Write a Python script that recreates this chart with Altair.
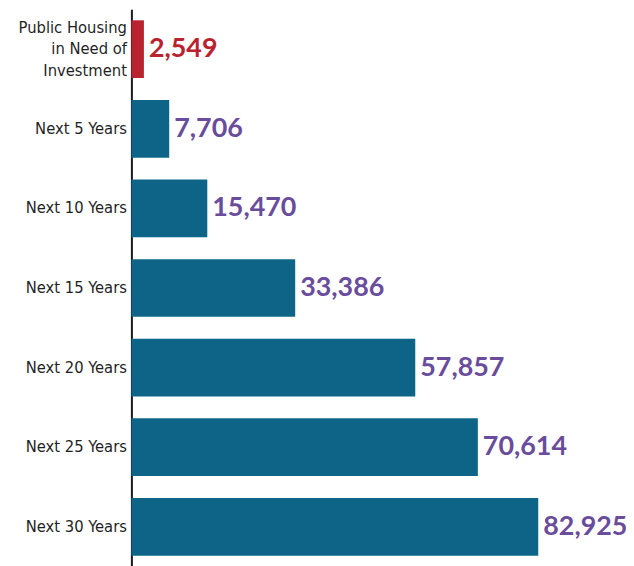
import altair as alt
import pandas as pd

categories = ["Public Housing\nin Need of\nInvestment", "Next 5 Years", "Next 10 Years",
              "Next 15 Years", "Next 20 Years", "Next 25 Years", "Next 30 Years"]
values = [2549, 7706, 15470, 33386, 57857, 70614, 82925]
groups = ["current", "future", "future", "future", "future", "future", "future"]

df = pd.DataFrame({"category": categories, "value": values, "group": groups})
df["label"] = df["value"].map(lambda v: f"{v:,}")

y = alt.Y("category:N", sort=categories, title=None,
          scale=alt.Scale(paddingInner=0.275, paddingOuter=0.1375),
          axis=alt.Axis(domainColor="#1a1a1a", domainWidth=2, ticks=False,
                        labelFont="DejaVu Sans Condensed", labelFontSize=16.5,
                        labelColor="#1f1f1f", labelPadding=5, labelLineHeight=21.5,
                        labelExpr="split(datum.label, '\\n')",
                        labelOffset={"expr": "indexof(datum.value, 'Public') == 0 ? -21.5 : 0"}))
x = alt.X("value:Q", title=None, scale=alt.Scale(domain=[0, 100000]), axis=None)

bars = alt.Chart(df).mark_bar().encode(
    y=y, x=x,
    color=alt.Color("group:N", scale=alt.Scale(domain=["current", "future"],
                                               range=["#b8232f", "#0e6487"]), legend=None)
)
text = alt.Chart(df).mark_text(align="left", baseline="middle", dx=5,
                               font="Lato", fontWeight="bold", fontSize=27).encode(
    y=y, x=x, text="label:N",
    color=alt.Color("group:N", scale=alt.Scale(domain=["current", "future"],
                                               range=["#b8232f", "#6a4c9c"]), legend=None)
)

chart = alt.layer(bars, text).resolve_scale(color="independent").properties(
    width=493, height=560,
    autosize=alt.AutoSizeParams(type="none"),
    padding={"left": 124, "top": 0, "right": 4, "bottom": 0}
).configure_view(stroke=None)

chart.save("out.html", embed_options={"renderer": "svg", "actions": False})
